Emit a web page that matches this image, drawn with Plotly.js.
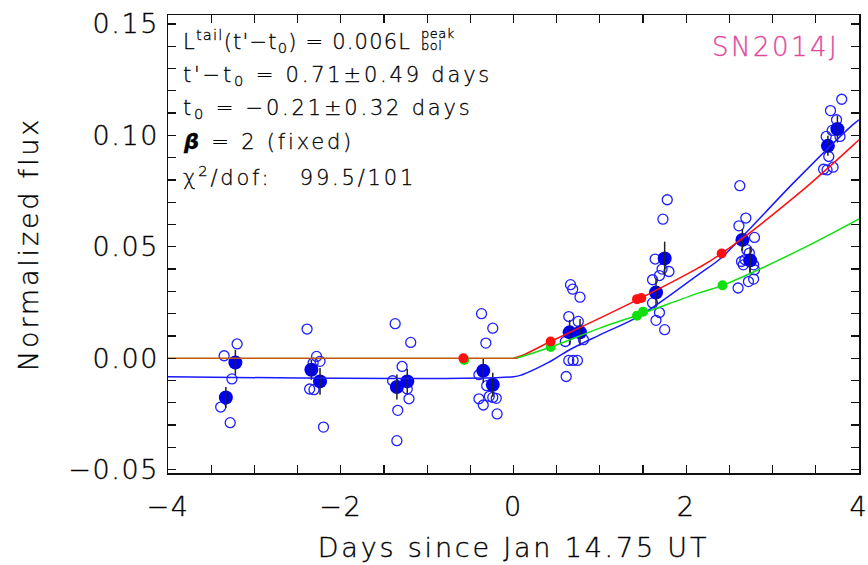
<!DOCTYPE html>
<html>
<head>
<meta charset="utf-8">
<script src="https://cdn.plot.ly/plotly-3.0.1.min.js"></script>
<style>
html,body{margin:0;padding:0;background:#fff;}
#chart{width:868px;height:565px;}
#chart .xtick text, #chart .ytick text{letter-spacing:1.6px; stroke:#000; stroke-width:0.35px;}
#chart .xtitle, #chart .ytitle{letter-spacing:2.8px; stroke:#000; stroke-width:0.35px;}
#chart g.annotation text{letter-spacing:2.8px; stroke:#000; stroke-width:0.3px;}
#chart g.annotation[data-index="0"] text{letter-spacing:1.2px;}
#chart g.annotation[data-index="1"] text, #chart g.annotation[data-index="2"] text{letter-spacing:0.5px;}
#chart g.annotation[data-index="7"] text{letter-spacing:2.5px; stroke:#e2479c;}
</style>
</head>
<body>
<div id="chart"></div>
<script>
// Individual measurements (open blue circles)
const openX = [
  -3.20,-3.35,-3.26,-3.39,-3.28,
  -2.39,-2.28,-2.24,-2.32,-2.36,-2.31,-2.20,
  -1.37,-1.19,-1.29,-1.40,-1.23,-1.21,-1.34,-1.35,
  -0.37,-0.24,-0.32,-0.40,-0.31,-0.40,-0.35,-0.28,-0.24,-0.20,-0.19,
  0.66,0.685,0.77,0.64,0.75,0.60,0.81,0.64,0.69,0.74,0.61,
  1.78,1.73,1.64,1.72,1.80,1.69,1.61,1.61,1.69,1.65,1.75,
  2.62,2.69,2.61,2.79,2.70,2.73,2.68,2.64,2.78,2.66,2.79,2.78,2.72,2.60,
  3.80,3.67,3.74,3.78,3.69,3.62,3.65,3.59,3.63,3.70
];
const openY = [
  0.0064,0.0011,-0.0093,-0.0219,-0.0289,
  0.0131,0.0008,-0.0014,-0.0022,-0.0138,-0.0141,-0.0309,
  0.0155,0.0071,-0.0037,-0.0101,-0.0138,-0.0182,-0.0234,-0.0370,
  0.0200,0.0135,0.0068,-0.0074,-0.0123,-0.0182,-0.0210,-0.0171,-0.0176,-0.0180,-0.0250,
  0.0330,0.0310,0.0274,0.0187,0.0165,0.0075,0.0083,-0.0010,-0.0010,-0.0010,-0.0082,
  0.0711,0.0624,0.0445,0.0400,0.0389,0.0371,0.0352,0.0248,0.0205,0.0170,0.0128,
  0.0774,0.0629,0.0594,0.0542,0.0487,0.0472,0.0442,0.0434,0.0419,0.0419,0.0397,0.0355,0.0344,0.0315,
  0.1162,0.1111,0.1070,0.0995,0.1022,0.0995,0.0905,0.0848,0.0845,0.0857
];

// Binned means (filled blue) with errors
const meanX = [-3.33,-3.22,-2.34,-2.24,-1.35,-1.23,-0.35,-0.24,0.65,0.77,1.65,1.75,2.65,2.74,3.64,3.75];
const meanY = [-0.0176,-0.0019,-0.0052,-0.0104,-0.0129,-0.0104,-0.0056,-0.0119,0.0116,0.0116,0.0295,0.0448,0.0531,0.0439,0.0953,0.1028];
const meanErr = [0.0047,0.0056,0.0045,0.0060,0.0056,0.0056,0.0054,0.0054,0.0056,0.0060,0.0063,0.0075,0.0049,0.0060,0.0045,0.0060];

// Other bands
const redX = [-0.58,0.43,1.43,1.48,2.41];
const redY = [0.0000,0.0075,0.0265,0.0270,0.0470];
const redErr = [0.001,0.001,0.001,0.001,0.001];
const greenX = [-0.57,0.43,1.43,1.50,2.42];
const greenY = [-0.0008,0.0050,0.0191,0.0209,0.0327];
const greenErr = [0.001,0.001,0.001,0.001,0.001];

// Model curves
const baseModelX = [-4.0,0.05];
const baseModelY = [0.0,0.0];
const blueModelX = [-4.0,0.0,0.1,0.4,0.65,1.0,1.46,2.14,2.39,2.60,3.25,3.92,4.0];
const blueModelY = [-0.0083,-0.0083,-0.0074,-0.0020,0.0038,0.0105,0.0190,0.0375,0.0445,0.0525,0.0790,0.1045,0.1070];
const redModelX = [0.0,0.1,0.43,1.0,1.45,2.14,2.41,3.32,3.93,4.0];
const redModelY = [0.0,0.0012,0.0075,0.0180,0.0265,0.0405,0.0470,0.0745,0.0955,0.0980];
const greenModelX = [0.0,0.1,0.43,1.0,1.45,2.14,2.42,3.32,4.0];
const greenModelY = [0.0,0.0008,0.0050,0.0135,0.0195,0.0292,0.0327,0.0487,0.0625];

const xTicks = [-4,-2,0,2,4];
const yTicks = [-0.05,0.00,0.05,0.10,0.15];

const FONT = "'DejaVu Sans ExtraLight','DejaVu Sans',sans-serif";

const traces = [
  {x: openX, y: openY, mode:'markers', type:'scatter',
   marker:{symbol:'circle-open', size:10, color:'#2020ff', line:{width:1.3, color:'#2020ff'}}},
  {x: meanX, y: meanY, mode:'markers', type:'scatter',
   marker:{symbol:'circle', size:14, color:'#0000f0'}},
  {x: meanX, y: meanY, mode:'markers', type:'scatter',
   marker:{size:1, color:'rgba(0,0,0,0)'},
   error_y:{type:'data', array: meanErr, visible:true, color:'#222', thickness:1.5, width:0}},
  {x: blueModelX, y: blueModelY, mode:'lines', type:'scatter',
   line:{color:'#1a1aff', width:1.5, shape:'spline', smoothing:1}},
  {x: redModelX, y: redModelY, mode:'lines', type:'scatter',
   line:{color:'#ff1010', width:1.5, shape:'spline', smoothing:1}},
  {x: greenModelX, y: greenModelY, mode:'lines', type:'scatter',
   line:{color:'#10e010', width:1.5, shape:'spline', smoothing:1}},
  {x: baseModelX, y: baseModelY, mode:'lines', type:'scatter',
   line:{color:'#c0580f', width:1.6}},
  {x: greenX, y: greenY, mode:'markers', type:'scatter',
   marker:{symbol:'circle', size:10, color:'#10e010'},
   error_y:{type:'data', array: greenErr, visible:true, color:'#111', thickness:1.2, width:0}},
  {x: redX, y: redY, mode:'markers', type:'scatter',
   marker:{symbol:'circle', size:10, color:'#ff1010'},
   error_y:{type:'data', array: redErr, visible:true, color:'#111', thickness:1.2, width:0}}
];

const px = (v)=> (v-168)/691.3;
const py = (v)=> (473.3-v)/458.3;
const ann = (text, x, y, size, extra) => Object.assign({
  text: text, xref:'paper', yref:'paper', x: px(x), y: py(y),
  xanchor:'left', yanchor:'middle', align:'left', showarrow:false,
  font:{family:FONT, size:size, color:'#000', weight:200}
}, extra||{});

const layout = {
  width:868, height:565,
  margin:{l:168, r:9, t:15, b:92},
  paper_bgcolor:'#fff', plot_bgcolor:'#fff',
  showlegend:false,
  font:{family:FONT, color:'#000', weight:200},
  xaxis:{
    range:[-4,4], tickvals:xTicks, ticktext:xTicks.map(v=> v<0 ? '\u2212'+Math.abs(v) : String(v)),
    showgrid:false, zeroline:false, showline:true, linecolor:'#111', linewidth:1.5, mirror:'ticks',
    ticks:'inside', ticklen:8, tickwidth:1.2, tickcolor:'#111',
    minor:{dtick:0.5, tick0:0, ticks:'inside', ticklen:8, tickwidth:1.2, tickcolor:'#111'},
    tickfont:{family:FONT, size:27, color:'#000', weight:200},
    ticklabelstandoff:9,
    title:{text:'Days since Jan 14.75 UT', font:{family:FONT, size:27, color:'#000', weight:200}, standoff:17}
  },
  yaxis:{
    range:[-0.0515,0.154], tickvals:yTicks, ticktext:yTicks.map(v=> v<0 ? '\u2212'+Math.abs(v).toFixed(2) : v.toFixed(2)),
    showgrid:false, zeroline:false, showline:true, linecolor:'#111', linewidth:1.5, mirror:'ticks',
    ticks:'inside', ticklen:8, tickwidth:1.2, tickcolor:'#111',
    minor:{dtick:0.01, tick0:0, ticks:'inside', ticklen:8, tickwidth:1.2, tickcolor:'#111'},
    tickfont:{family:FONT, size:27, color:'#000', weight:200},
    ticklabelstandoff:2,
    title:{text:'Normalized flux', font:{family:FONT, size:27, color:'#000', weight:200}, standoff:30}
  },
  annotations:[
    ann("L<sup>tail</sup>(t'\u2212t<sub>0</sub>) = 0.006L", 181, 41, 21),
    ann("peak", 419, 34, 13),
    ann("bol", 419, 46, 13),
    ann("t'\u2212t<sub>0</sub> = 0.71\u00b10.49 days", 181, 76, 21),
    ann("t<sub>0</sub> = \u22120.21\u00b10.32 days", 181, 109, 21),
    ann("<b><i>\u03b2</i></b> = 2 (fixed)", 181, 142, 21),
    ann("\u03c7<sup>2</sup>/dof:   99.5/101", 181, 176, 21),
    ann("SN2014J", 710, 47, 26, {font:{family:FONT, size:26, color:'#e2479c', weight:200}})
  ]
};

Plotly.newPlot('chart', traces, layout, {displayModeBar:false, staticPlot:true});
</script>
</body>
</html>
